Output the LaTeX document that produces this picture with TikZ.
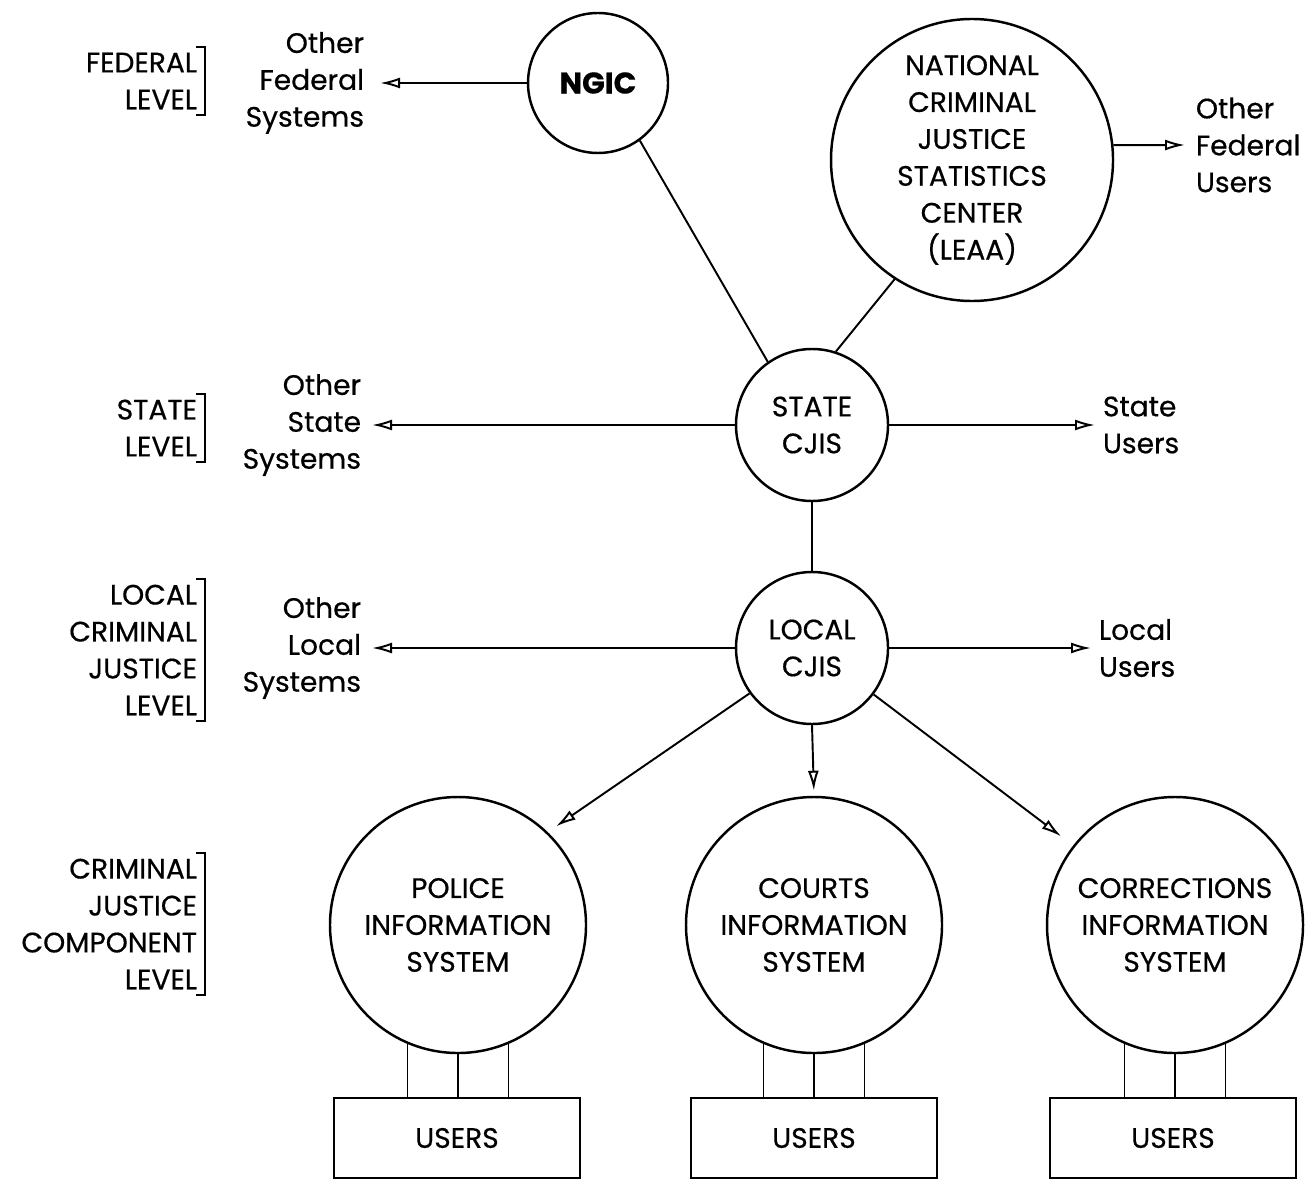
\documentclass[tikz,border=0pt]{standalone}
\usepackage{fontspec}
\setmainfont{Poppins}[FakeBold=0.5]
\usetikzlibrary{arrows.meta}
\tikzset{
  hub/.style={draw, circle, line width=1.4pt, inner sep=0pt, align=center},
  userbox/.style={draw, line width=1.1pt, minimum width=49.2mm, minimum height=16mm},
  lside/.style={align=right, inner sep=0pt, anchor=east},
  rside/.style={align=left, inner sep=0pt, anchor=west},
  level/.style={align=right, inner sep=0pt, anchor=east},
}
\begin{document}
\begin{tikzpicture}[x=0.2mm, y=-0.2mm, line width=1.1pt,
  font=\fontsize{16}{21}\selectfont,
  >={Latex[open,length=4mm,width=2.2mm]}]
\useasboundingbox (0,0) rectangle (1307,1181);

% levels on the left
\node[level] (fed) at (198,81) {FEDERAL\\LEVEL};
\node[level] (sta) at (198,428) {STATE\\LEVEL};
\node[level] (loc) at (198,650) {LOCAL\\CRIMINAL\\JUSTICE\\LEVEL};
\node[level] (com) at (198,924) {CRIMINAL\\JUSTICE\\COMPONENT\\LEVEL};
\foreach \n in {fed,sta,loc,com}
  \draw ([xshift=-0.4mm,yshift=1mm]\n.north east) -- ([xshift=1.4mm,yshift=1mm]\n.north east)
    -- ([xshift=1.4mm,yshift=-1mm]\n.south east) -- ([xshift=-0.4mm,yshift=-1mm]\n.south east);

% centres
\node[hub, minimum size=28mm, font=\fontsize{17}{21}\selectfont\bfseries] (ngic) at (598,83) {NGIC};
\node[hub, minimum size=56.4mm] (ncjsc) at (972,160)
  {NATIONAL\\CRIMINAL\\JUSTICE\\STATISTICS\\CENTER\\(LEAA)};
\node[hub, minimum size=30.4mm] (state) at (812,425) {STATE\\CJIS};
\node[hub, minimum size=30.4mm] (local) at (812,648) {LOCAL\\CJIS};
\node[hub, minimum size=51.2mm] (police) at (458,925) {POLICE\\INFORMATION\\SYSTEM};
\node[hub, minimum size=51.2mm] (courts) at (814,925) {COURTS\\INFORMATION\\SYSTEM};
\node[hub, minimum size=51.2mm] (corr) at (1175,925) {CORRECTIONS\\INFORMATION\\SYSTEM};

% users
\node[userbox] (pusers) at (457,1138) {USERS};
\node[userbox] (cusers) at (814,1138) {USERS};
\node[userbox] (rusers) at (1173,1138) {USERS};

% other systems and users
\node[lside] (ofs) at (365,83) {Other\\Federal\\Systems};
\node[rside] (ofu) at (1195,145) {Other\\Federal\\Users};
\node[lside] (oss) at (362,425) {Other\\State\\Systems};
\node[rside] (su) at (1102,425) {State\\Users};
\node[lside] (ols) at (362,648) {Other\\Local\\Systems};
\node[rside] (lu) at (1098,648) {Local\\Users};

\draw[->] (ngic.west) -- ([xshift=3mm]ofs.east);
\draw[->] (ncjsc.6) -- ([xshift=-2mm]ofu.west);
\draw (ngic.-54) -- (state.125);
\draw (ncjsc.-123) -- (state.72);
\draw[->] (state.west) -- ([xshift=2mm]oss.east);
\draw[->] (state.east) -- ([xshift=-1.4mm]su.west);
\draw (state.south) -- (local.north);
\draw[->] (local.west) -- ([xshift=2mm]ols.east);
\draw[->] (local.east) -- ([xshift=-1.4mm]lu.west);
\draw[->, shorten >=2mm] (local.216) -- (police.46);
\draw[->, shorten >=1mm] (local.south) -- (courts.north);
\draw[->, shorten >=3mm] (local.-37) -- (corr.142);

% links to users
\foreach \a in {247,270,293} {
  \draw (police.\a) -- (police.\a |- pusers.north);
  \draw (courts.\a) -- (courts.\a |- cusers.north);
  \draw (corr.\a) -- (corr.\a |- rusers.north);
}
\end{tikzpicture}
\end{document}
